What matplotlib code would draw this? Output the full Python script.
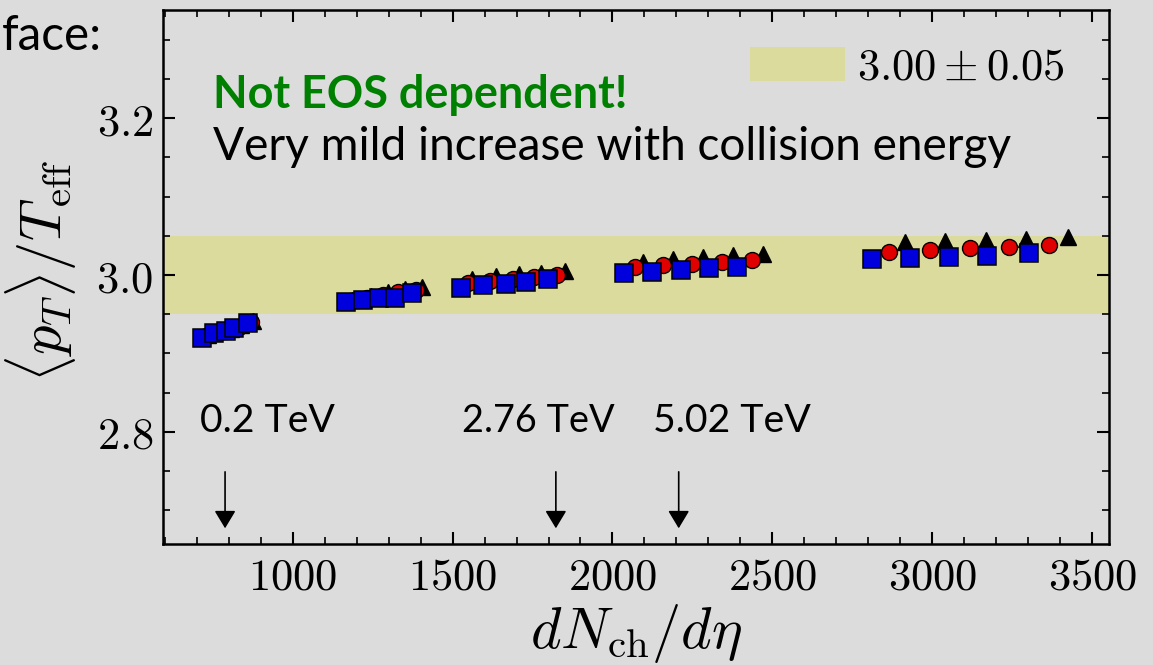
import matplotlib
matplotlib.use('Agg')
import matplotlib.pyplot as plt
from matplotlib.patches import Patch
from matplotlib.ticker import MultipleLocator, FuncFormatter

plt.rcParams['mathtext.fontset'] = 'cm'

# ---------------- data ----------------
# blue squares
sq_x = [717, 753, 791, 817, 862,
        1167, 1221, 1271, 1320, 1372,
        1528, 1596, 1667, 1731, 1799,
        2036, 2125, 2214, 2302, 2390,
        2810, 2931, 3052, 3171, 3302]
sq_y = [2.920, 2.926, 2.929, 2.933, 2.939,
        2.965, 2.968, 2.971, 2.971, 2.977,
        2.984, 2.987, 2.989, 2.991, 2.995,
        3.002, 3.004, 3.007, 3.0085, 3.0105,
        3.020, 3.022, 3.0225, 3.0245, 3.0275]
# red circles
ci_x = [728, 765, 802, 832, 870,
        1178, 1232, 1283, 1330, 1385,
        1548, 1618, 1688, 1755, 1825,
        2070, 2158, 2247, 2341, 2435,
        2865, 2992, 3117, 3240, 3365]
ci_y = [2.922, 2.927, 2.930, 2.934, 2.940,
        2.967, 2.971, 2.975, 2.978, 2.981,
        2.990, 2.993, 2.995, 2.997, 3.000,
        3.010, 3.013, 3.014, 3.017, 3.019,
        3.030, 3.032, 3.034, 3.036, 3.038]
# black triangles
tr_x = [735, 772, 808, 840, 877,
        1185, 1245, 1298, 1350, 1405,
        1562, 1637, 1707, 1776, 1851,
        2096, 2190, 2283, 2377, 2469,
        2914, 3039, 3169, 3294, 3424]
tr_y = [2.923, 2.928, 2.931, 2.936, 2.941,
        2.968, 2.973, 2.978, 2.982, 2.985,
        2.995, 2.999, 3.001, 3.003, 3.005,
        3.017, 3.020, 3.023, 3.025, 3.027,
        3.042, 3.044, 3.045, 3.046, 3.048]

band_center = 3.00
band_half = 0.05
legend_label = r'$3.00 \pm 0.05$'

arrow_x = [789, 1823, 2207]
arrow_y_top = 2.749
arrow_y_tip = 2.677

energy_labels = ['0.2 TeV', '2.76 TeV', '5.02 TeV']
energy_label_px = [200, 462, 653]
energy_label_w = [135, 153, 158]

# ---------------- figure ----------------
W, H = 1153, 665
BG = '#dcdcdc'
BAND = '#dbdb9d'
fig = plt.figure(figsize=(W / 100, H / 100), dpi=100, facecolor=BG)
ax = fig.add_axes([163 / W, 1 - 544 / H, (1109 - 163) / W, (544 - 10) / H])
ax.set_facecolor(BG)

ax.axhspan(band_center - band_half, band_center + band_half, color=BAND, lw=0, zorder=0.5)

ax.plot(tr_x, tr_y, ls='none', marker='^', ms=12, mfc='black', mec='black', mew=1.0, zorder=3)
ax.plot(ci_x, ci_y, ls='none', marker='o', ms=11.5, mfc='#e00000', mec='black', mew=1.0, zorder=4)
ax.plot(sq_x, sq_y, ls='none', marker='s', ms=12.5, mfc='#0000dd', mec='black', mew=1.1, zorder=5)

for x in arrow_x:
    ax.annotate('', xy=(x, arrow_y_tip), xytext=(x, arrow_y_top),
                arrowprops=dict(arrowstyle='-|>,head_length=10.8,head_width=6.5',
                                mutation_scale=1, color='black', lw=1.2,
                                shrinkA=0, shrinkB=0), zorder=6)

ax.set_xlim(595, 3552)
ax.set_ylim(2.657, 3.338)
ax.xaxis.set_major_locator(MultipleLocator(500))
ax.xaxis.set_minor_locator(MultipleLocator(100))
ax.yaxis.set_major_locator(MultipleLocator(0.2))
ax.yaxis.set_minor_locator(MultipleLocator(0.05))
ax.xaxis.set_major_formatter(FuncFormatter(lambda v, p: f'${v:.0f}$'))
ax.yaxis.set_major_formatter(FuncFormatter(lambda v, p: f'${v:.1f}$'))

ax.tick_params(which='both', direction='in', top=True, right=True, color='black')
ax.tick_params(which='major', length=8.5, width=1.5, labelsize=32)
ax.tick_params(which='minor', length=5, width=1.2)
ax.tick_params(axis='x', which='major', pad=8)
ax.tick_params(axis='y', which='major', pad=7)
for s in ax.spines.values():
    s.set_linewidth(1.8)

ax.set_xlabel(r'$dN_{\rm ch}/d\eta$', fontsize=42)
ax.set_ylabel(r'$\langle p_T\rangle/T_{\rm eff}$', fontsize=42)
ax.xaxis.set_label_coords(0.5, -0.108)
ax.yaxis.set_label_coords(-0.089, 0.511)

leg = ax.legend(handles=[Patch(facecolor=BAND, edgecolor='none', label=legend_label)],
                loc='center left', bbox_to_anchor=(0.6205, 0.8933), frameon=False,
                fontsize=32, handlelength=2.14, handleheight=0.77, handletextpad=0.27,
                borderpad=0, borderaxespad=0)

# ---------------- slide texts ----------------
FONT = 'Lato'
def ftext(px, py, s, **kw):
    return fig.text(px / W, 1 - py / H, s, va='baseline', family=FONT, fontsize=24, **kw)

t_face = ftext(102, 50, 'face:', ha='right')
t_not = ftext(213, 108, 'Not EOS dependent!', color='#008000', fontweight='bold')
t_very = ftext(213, 160, 'Very mild increase with collision energy')
t_en = [ftext(px, 432, s) for px, s in zip(energy_label_px, energy_labels)]

fig.canvas.draw()
r = fig.canvas.get_renderer()
def fit(t, w):
    bb = t.get_window_extent(r)
    t.set_fontsize(t.get_fontsize() * w / bb.width)
    return t.get_fontsize()

fs = fit(t_very, 800)
fit(t_not, 415)
fit(t_face, 100)
for t, w in zip(t_en, energy_label_w):
    fit(t, w)

fig.savefig('out.png', dpi=100, facecolor=BG)
